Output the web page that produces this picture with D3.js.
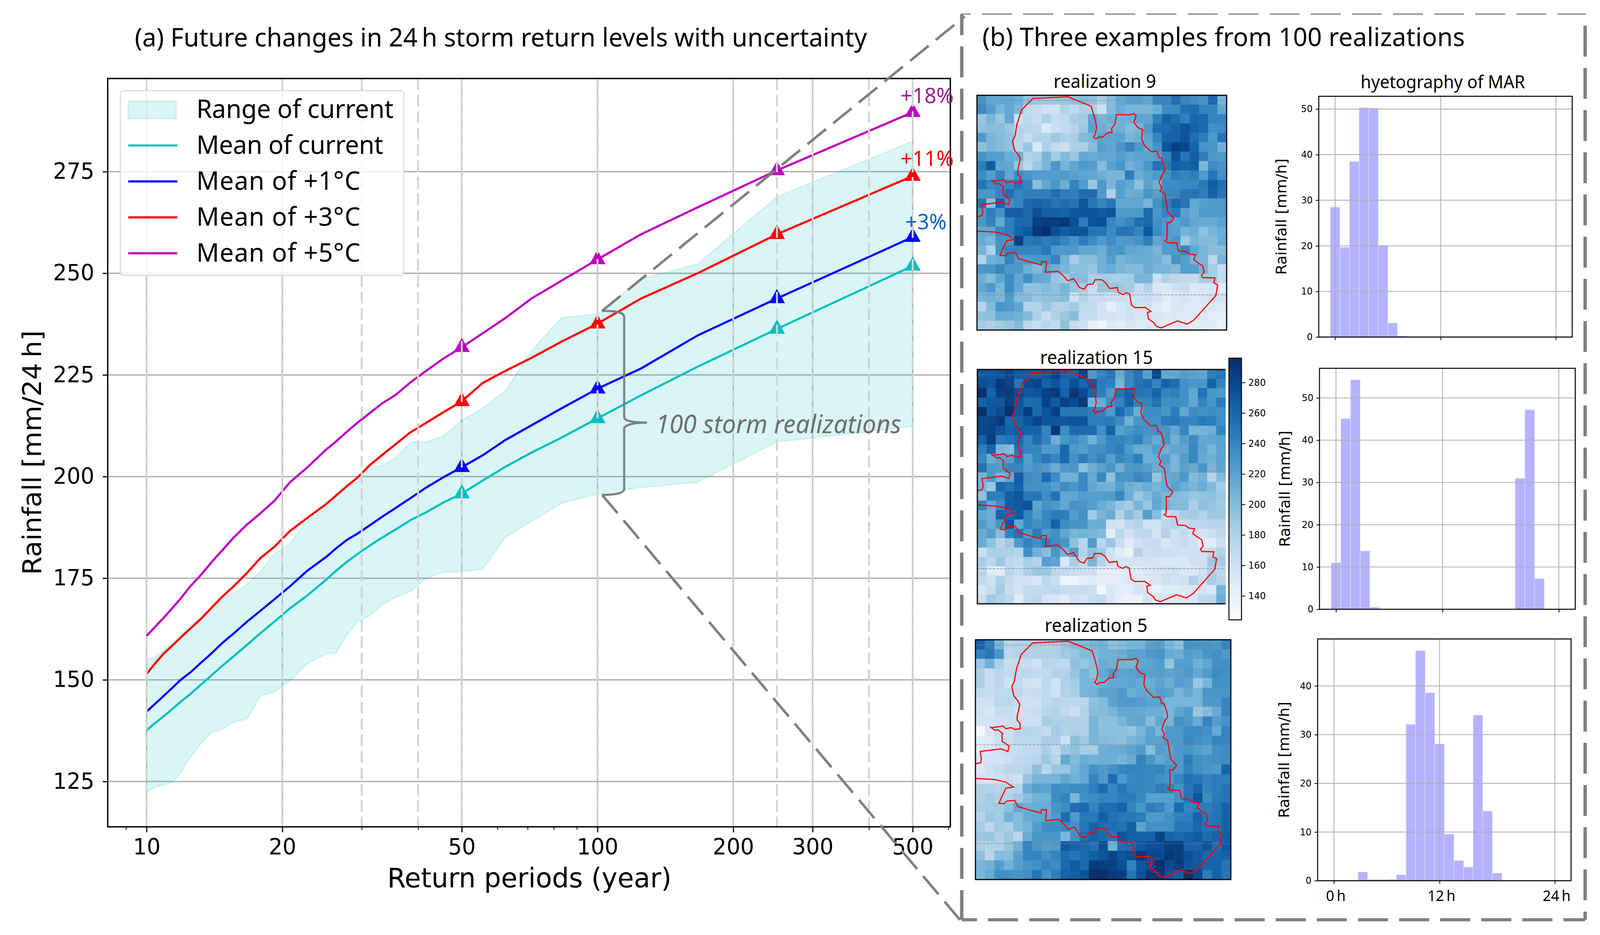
<!DOCTYPE html>
<html>
<head>
<meta charset="utf-8">
<script src="https://cdn.jsdelivr.net/npm/d3@7"></script>
<style>
html, body { margin: 0; padding: 0; background: #fff; overflow: hidden; }
text { font-family: "Noto Sans", sans-serif; fill: #000; }
.dj text, text.dj { font-family: "DejaVu Sans", sans-serif; }
</style>
</head>
<body>
<div id="chart-area"></div>
<script>
// ---- panel (a) data
var returnPeriods = [10,10.4,10.9,11.4,11.9,12.5,13.2,13.9,14.7,15.6,16.7,17.9,19.2,20.8,22.7,25,26.3,27.8,29.4,31.25,33.3,35.7,38.5,41.7,45.5,50,55.6,62.5,71.4,83.3,100,125,166.7,250,500];
var rangeLow = [122.2,123.5,124.2,124.8,127,131,134.2,137,137.8,139.6,140.4,146,147,149.7,153.9,156.3,156.6,161,164.4,165.7,168.5,170.3,171.7,175,176.4,176.6,177.2,185,189,193.4,195.7,197.3,198.6,208.5,212.3];
var rangeHigh = [154.8,155.6,157.2,159,160.8,163.6,165,166.6,170,171.3,173.5,176.8,181,183.6,189,192,195,198,198.6,202.4,202.7,204.7,208.5,208.5,210,213.8,216.8,221.1,231,239.1,240,248.6,252.3,268.8,282.5];
var meanCurrent = [137.6,139.2,141,142.8,144.6,146.5,148.8,151,153.4,155.8,158.6,161.5,164.3,167.6,170.7,174.6,176.8,179,181,183,185,187,189.3,191.2,193.6,195.8,199,202.4,205.9,209.6,214.3,220,227,236.3,251.8];
var meanPlus1 = [142.2,143.9,146,148,150,151.8,154.2,156.4,159,161.4,164.3,167,169.8,173,176.8,180.2,182.3,184.4,186,188,190.1,192.3,194.7,197.3,199.8,202.3,205.2,209,212.6,216.8,221.6,226.6,234.7,243.8,258.9];
var meanPlus3 = [151.4,153.8,156.4,158.4,160.4,162.6,165,167.6,170.4,173,176.3,180,182.7,186.6,189.8,193.2,195.3,197.6,199.8,202.8,205.3,208,210.9,213.2,215.8,218.5,223,226,229.2,233.2,237.6,243.8,250,259.6,273.9];
var meanPlus5 = [160.8,162.8,165.2,167.6,170,173,175.8,178.8,181.8,185,188.2,191,194,198.6,202.2,206.6,208.6,211,213.3,215.6,218,220.1,223.2,226,229,231.8,235.2,239,243.8,248.2,253.4,259.6,266.2,275.3,289.6];

var markerPeriods = [50,100,250,500];
var xMajorTicks = [10,20,50,100,200,300,500];
var xMinorTicks = [9,30,40,60,70,80,90,400,600];
var xDashed = [10,20,30,40,50,100,200,250,300,400,500];
var yTicks = [125,150,175,200,225,250,275];
var legendLabels = ["Range of current","Mean of current","Mean of +1°C","Mean of +3°C","Mean of +5°C"];

// ---- panel (b) hyetographs, one value per hour bin
var hyeto9 = [28.5,19.7,38.5,50.3,50.2,20.1,3.1,0.3,0,0,0,0,0,0,0,0,0,0,0,0,0,0,0,0];
var hyeto15 = [11,45.1,54.3,13.8,0.5,0,0,0,0,0,0,0,0,0,0,0,0,0,0,31,47.2,7.25,0,0];
var hyeto5 = [0,0,0,1.8,0.25,0.25,0.3,1.2,32.1,47.25,38.6,28.1,9.6,4.15,2.8,34,14.3,1.55,0,0,0,0,0,0];
var hyetoTicks = [0,11,23];
var hyetoTickLabels = ["0\u2009h","12\u2009h","24\u2009h"];

// ---- panel (b) rainfall maps, 25 rows x 27 columns, mm/24h
var realization9 = [
[230,215,215,215,210,195,190,190,190,190,195,200,195,185,200,215,220,220,215,240,240,255,240,235,230,258,205],
[235,222,205,215,205,170,165,158,158,178,170,180,180,162,200,212,205,205,205,210,235,235,252,255,240,240,215],
[190,205,190,215,160,172,165,180,165,170,183,185,215,205,210,210,210,215,215,243,262,255,243,260,258,240,240],
[195,198,198,190,175,175,172,148,162,168,175,188,218,210,205,210,200,205,225,255,255,262,272,262,258,232,235],
[225,205,200,195,175,165,178,178,188,180,182,200,205,218,218,220,205,210,218,240,262,262,272,255,245,225,250],
[195,205,200,195,175,190,150,180,168,162,180,180,198,220,215,228,240,225,215,230,272,285,280,262,230,228,208],
[230,222,222,212,208,178,182,205,185,200,190,215,212,215,215,222,215,218,218,222,240,272,250,265,245,225,225],
[245,265,215,215,190,172,190,205,228,205,215,225,222,198,218,228,208,215,228,252,245,265,262,265,205,235,230],
[235,222,240,215,235,228,222,222,222,225,220,218,215,210,205,205,245,210,218,225,232,245,240,245,225,250,232],
[252,238,240,238,252,240,198,215,228,210,240,225,190,225,205,222,215,195,218,208,235,235,238,238,248,265,252],
[228,228,240,255,240,245,245,245,255,245,245,255,255,225,178,222,210,212,228,220,238,238,250,250,245,262,248],
[250,195,262,232,240,258,262,258,250,255,250,270,250,240,250,215,215,215,205,232,245,258,250,215,222,225,225],
[225,245,230,265,265,258,275,265,265,262,270,272,272,268,272,225,225,225,258,228,240,248,220,212,225,225,225],
[228,240,215,245,258,258,285,288,288,292,275,245,272,275,238,232,240,255,258,232,225,218,225,215,212,212,218],
[215,215,240,245,262,270,290,295,275,265,272,272,250,250,235,250,250,240,270,235,225,220,205,210,195,205,210],
[212,205,230,230,285,248,252,245,250,240,230,245,235,225,235,225,225,230,245,215,222,228,188,205,200,200,212],
[205,180,230,240,240,240,240,248,225,225,225,215,215,210,225,228,215,215,212,205,222,225,240,215,205,198,198],
[178,208,212,240,225,225,228,228,240,208,185,198,198,208,222,205,210,212,212,208,198,230,222,205,205,172,205],
[228,228,238,225,225,210,200,215,210,205,195,195,190,208,212,205,200,200,212,205,205,200,222,222,205,185,165],
[210,200,215,235,215,232,215,212,190,185,200,198,183,183,183,183,183,205,205,162,178,172,168,168,185,185,168],
[215,225,205,235,215,195,195,200,195,205,190,185,165,190,190,190,185,165,178,150,150,160,165,148,150,152,145],
[205,208,205,225,200,198,192,195,195,200,160,178,165,165,162,162,160,162,165,158,145,150,155,150,152,160,155],
[175,200,228,225,215,178,178,190,178,178,185,170,170,155,140,152,158,158,158,148,138,150,150,148,148,150,150],
[195,195,212,212,208,200,180,165,180,190,198,165,165,155,155,152,158,150,150,152,148,150,148,148,150,142,142],
[185,178,185,190,200,172,165,175,168,195,165,160,140,130,148,142,150,148,150,148,140,148,148,145,148,145,140]
];
var realization15 = [
[268,268,272,280,268,268,265,272,285,265,262,285,225,240,250,212,238,252,220,280,215,215,222,218,215,245,250],
[275,272,290,282,250,278,283,262,272,258,275,262,272,245,242,205,238,252,255,240,262,255,232,228,228,262,238],
[295,262,285,288,278,268,272,285,288,262,290,278,262,245,225,252,262,250,248,262,240,245,232,215,252,228,225],
[262,270,270,285,272,255,258,282,268,285,278,290,208,212,235,240,262,240,240,252,232,235,232,215,240,228,245],
[295,270,278,295,268,285,258,272,285,248,248,250,245,240,225,258,238,210,235,235,228,245,215,235,232,235,232],
[278,282,288,258,262,272,282,272,272,270,272,272,245,245,245,235,208,228,232,232,245,248,240,240,248,245,232],
[280,282,272,262,268,262,262,240,290,235,258,255,255,232,262,220,228,235,230,232,228,215,238,205,205,210,240],
[262,285,245,250,258,240,255,240,210,228,235,225,208,225,240,240,235,242,225,212,228,208,222,235,215,215,218],
[245,262,205,200,252,240,240,225,225,258,225,222,232,232,240,245,225,212,212,222,210,215,215,238,215,205,218],
[238,210,220,222,248,222,238,248,238,258,232,245,232,240,222,238,232,245,210,212,222,205,222,238,212,210,218],
[252,225,222,240,240,225,230,225,212,225,228,195,210,220,228,210,225,228,222,210,215,205,218,212,228,205,215],
[205,225,205,215,265,235,232,258,235,208,208,238,212,238,195,230,228,238,232,192,212,215,225,200,208,178,200],
[205,190,258,250,262,232,232,232,222,235,228,238,215,210,208,222,210,205,212,205,212,220,210,205,212,200,185],
[195,245,245,265,272,248,250,235,252,215,215,222,222,222,222,238,210,190,200,212,205,200,198,190,192,195,190],
[240,212,235,268,268,272,218,230,225,215,230,228,222,212,205,192,185,205,190,215,205,200,200,180,195,192,188],
[215,210,262,258,268,240,222,238,245,245,222,232,188,205,212,178,200,185,222,198,165,172,182,185,178,190,190],
[225,212,228,270,215,240,232,238,262,235,230,228,210,212,160,155,172,178,158,158,172,178,165,172,172,175,175],
[212,222,198,240,252,225,245,225,232,215,205,208,205,200,145,172,158,170,172,155,178,160,168,160,155,162,170],
[212,195,175,188,225,242,232,245,235,228,195,175,225,175,190,165,145,158,165,165,152,160,165,158,142,145,162],
[162,182,180,180,175,232,208,198,228,205,222,178,195,188,160,145,135,178,162,165,162,160,158,160,160,170,178],
[183,172,190,172,170,182,178,222,218,150,182,172,205,178,158,155,155,155,155,155,150,150,150,160,158,188,185],
[175,148,145,175,165,182,190,188,172,170,165,162,160,145,142,142,145,145,152,155,160,160,152,150,160,180,172],
[170,160,180,168,158,158,150,172,162,135,133,142,145,142,142,145,150,148,150,150,160,155,158,180,162,185,175],
[155,165,185,165,155,168,168,170,172,165,165,165,162,130,150,142,142,155,150,140,145,145,148,150,155,150,205],
[165,188,178,172,145,168,172,155,152,142,160,155,165,168,150,140,135,135,155,150,152,150,150,150,170,172,210]
];
var realization5 = [
[262,245,205,175,178,178,180,178,182,190,198,200,205,208,195,200,205,205,218,222,205,195,230,228,228,225,240],
[240,248,228,172,176,178,180,180,180,188,190,200,200,208,208,212,220,218,225,228,212,210,222,218,228,232,225],
[190,208,180,165,168,165,158,175,172,170,195,192,198,212,208,208,205,215,218,222,192,222,222,208,215,232,232],
[180,165,172,168,170,172,168,170,178,178,192,205,195,215,225,218,220,222,220,222,218,220,225,215,225,235,232],
[182,165,172,158,168,158,155,172,158,180,185,205,205,210,215,215,218,212,210,218,210,222,218,190,205,232,232],
[170,165,170,170,172,162,165,170,160,178,182,205,208,218,218,225,210,215,215,222,218,205,215,205,228,228,228],
[160,160,172,172,165,158,160,170,175,172,172,175,195,200,218,225,225,222,218,218,205,205,205,205,225,225,240],
[158,152,165,165,158,162,165,175,178,170,162,178,198,200,205,215,215,212,210,210,205,215,225,190,200,212,240],
[155,155,158,162,165,160,162,185,180,180,180,180,205,195,195,205,215,215,198,215,205,232,225,212,240,222,230],
[128,152,165,160,172,175,172,168,185,178,180,180,205,195,195,195,192,205,218,205,225,225,235,235,232,212,240],
[145,150,162,165,172,172,172,182,182,160,195,188,205,200,198,195,205,210,220,220,225,225,238,232,228,240,240],
[148,150,158,165,165,170,170,182,170,188,195,185,185,210,212,212,218,225,198,222,218,225,228,222,218,232,235],
[155,155,155,162,168,172,175,188,175,215,200,210,208,210,210,205,212,240,228,215,222,225,245,232,230,232,235],
[150,160,165,172,172,175,195,172,190,192,205,215,230,225,232,238,240,240,238,240,230,225,240,232,228,225,262],
[158,155,160,165,158,190,205,205,205,215,208,215,240,225,255,225,238,240,238,232,228,240,252,250,240,245,245],
[178,178,175,175,175,212,220,218,235,232,235,235,245,258,238,250,240,240,238,245,240,230,248,260,240,245,250],
[178,185,180,178,188,198,208,208,235,240,205,232,235,240,240,245,245,238,220,220,220,232,250,272,235,248,250],
[182,185,185,195,215,210,212,212,228,235,255,258,240,255,255,262,240,228,245,240,225,258,240,245,245,250,262],
[175,190,185,208,200,212,215,215,225,255,225,248,248,265,252,248,248,245,225,225,232,242,245,262,248,252,262],
[185,172,185,182,200,205,222,235,235,238,232,250,262,255,255,252,265,218,232,232,232,250,250,258,250,252,262],
[188,190,180,188,172,212,228,228,228,205,232,255,262,258,250,272,265,262,262,282,262,258,262,268,255,262,265],
[182,178,178,192,208,240,228,222,225,268,262,258,252,275,208,255,260,270,275,275,285,285,262,262,272,255,268],
[195,175,200,198,220,240,240,232,240,255,250,258,265,272,280,272,275,290,280,278,290,285,275,268,260,260,262],
[205,208,222,208,220,228,232,240,235,258,268,258,288,285,285,275,240,272,280,295,278,288,272,270,262,262,250],
[205,212,232,232,230,232,250,230,245,262,265,272,295,295,288,285,250,272,290,292,275,265,295,278,245,262,250]
];
var colorbarTicks = [140,160,180,200,220,240,260,280];
var latRows = [0.55,10.95,21.25];

// catchment outline, digitised on a 1286 x 1110 grid over the map
var boundaryX = [0,26,30,24,68,128,163,170,143,135,133,138,113,98,73,78,123,138,153,180,198,226,224,210,210,218,223,213,193,183,196,206,230,288,468,588,600,613,616,608,600,613,623,648,673,696,693,710,718,763,788,808,820,808,828,853,848,863,898,928,938,951,963,968,953,938,951,943,968,978,983,1013,996,978,980,978,968,983,1028,1038,1078,1098,1126,1116,1143,1163,1170,1156,1163,1226,1220,1240,1230,1118,1083,1033,948,923,913,883,878,896,868,813,796,786,768,753,728,723,683,663,643,608,598,568,553,528,498,468,443,418,353,358,333,330,268,213,198,158,143,118,138,153,191,153,98,0];
var boundaryY = [575,569,552,517,512,505,517,492,475,472,442,435,417,419,402,407,402,399,412,407,415,412,387,372,355,322,299,282,259,217,192,137,69,15,7,52,87,132,157,187,197,207,199,197,177,175,157,137,92,92,92,87,97,127,152,162,207,237,267,265,295,297,332,357,377,412,437,452,467,522,552,582,602,602,637,682,687,697,697,737,739,752,755,777,795,807,837,852,862,864,887,897,947,1062,1082,1067,1100,1092,1077,1057,1027,1022,1004,1004,992,939,934,942,932,909,914,887,872,872,892,895,917,909,867,877,852,832,837,787,787,802,787,772,744,747,759,757,717,687,682,659,647,642];
var boundaryGridX = [0,1286], boundaryGridY = [0,1110];

// ---- layout
var svg = d3.select("#chart-area").append("svg")
    .attr("viewBox", "0 0 4204 2394")
    .attr("preserveAspectRatio", "none")
    .style("display", "block")
    .style("width", "100vw")
    .style("height", "100vh");
svg.append("rect").attr("width", 4204).attr("height", 2394).attr("fill", "#fff");

var box = { left: 283, right: 2497, top: 201, bottom: 2117 };
var x = d3.scaleLog().domain([8.2, 606]).range([box.left, box.right]);
var y = d3.scaleLinear().domain([113.85, 297.9]).range([box.bottom, box.top]);

var teal = "#00bfbf", blue = "#0000ff", red = "#ff0000", purple = "#bf00bf";
var meanSeries = [
    { values: meanCurrent, color: teal },
    { values: meanPlus1, color: blue },
    { values: meanPlus3, color: red },
    { values: meanPlus5, color: purple }
];

var g = svg.append("g");

// Grid below everything
g.selectAll(".hgrid").data(yTicks).enter().append("line")
    .attr("x1", box.left).attr("x2", box.right)
    .attr("y1", function(d) { return y(d); }).attr("y2", function(d) { return y(d); })
    .attr("stroke", "#b0b0b0").attr("stroke-width", 3.5);
g.selectAll(".vgrid").data(xMajorTicks).enter().append("line")
    .attr("y1", box.top).attr("y2", box.bottom)
    .attr("x1", function(d) { return x(d); }).attr("x2", function(d) { return x(d); })
    .attr("stroke", "#bdbdbd").attr("stroke-width", 3.5);

// Range of current
var area = d3.area()
    .x(function(d, i) { return x(returnPeriods[i]); })
    .y0(function(d, i) { return y(rangeLow[i]); })
    .y1(function(d, i) { return y(rangeHigh[i]); });
g.append("path").datum(returnPeriods)
    .attr("d", area)
    .attr("fill", teal).attr("fill-opacity", 0.15)
    .attr("stroke", teal).attr("stroke-opacity", 0.15).attr("stroke-width", 3);

// Mean lines
meanSeries.forEach(function(s) {
    var line = d3.line()
        .x(function(d, i) { return x(returnPeriods[i]); })
        .y(function(d) { return y(d); });
    g.append("path").datum(s.values)
        .attr("d", line).attr("fill", "none")
        .attr("stroke", s.color).attr("stroke-width", 5.5);
});

// Triangles
var tri = d3.symbol().type(d3.symbolTriangle).size(770);
meanSeries.forEach(function(s) {
    g.selectAll(null).data(markerPeriods).enter().append("path")
        .attr("d", tri)
        .attr("fill", s.color)
        .attr("transform", function(d) {
            return "translate(" + x(d) + "," + y(s.values[returnPeriods.indexOf(d)]) + ")";
        });
});

// Dashed guides sit on top of the marks
g.selectAll(".vdash").data(xDashed).enter().append("line")
    .attr("y1", box.top).attr("y2", box.bottom)
    .attr("x1", function(d) { return x(d); }).attr("x2", function(d) { return x(d); })
    .attr("stroke", "#d3d3d3").attr("stroke-width", 5)
    .attr("stroke-dasharray", "30 12");

// Spines and axes
g.append("rect")
    .attr("x", box.left).attr("y", box.top)
    .attr("width", box.right - box.left).attr("height", box.bottom - box.top)
    .attr("fill", "none").attr("stroke", "#000").attr("stroke-width", 3.5);

var xAxisCall = d3.axisBottom(x).tickValues(xMajorTicks).tickFormat(function(d) { return d; }).tickSize(14).tickPadding(10);
var xAxisGroup = g.append("g").attr("class", "dj").attr("transform", "translate(0," + box.bottom + ")").call(xAxisCall);
xAxisGroup.select(".domain").remove();
xAxisGroup.selectAll("line").attr("stroke-width", 3);
xAxisGroup.selectAll("text").attr("font-size", 57).attr("dy", "0.82em");

var xMinorCall = d3.axisBottom(x).tickValues(xMinorTicks).tickFormat("").tickSize(8);
var xMinorGroup = g.append("g").attr("transform", "translate(0," + box.bottom + ")").call(xMinorCall);
xMinorGroup.select(".domain").remove();
xMinorGroup.selectAll("line").attr("stroke-width", 2);

var yAxisCall = d3.axisLeft(y).tickValues(yTicks).tickSize(13).tickPadding(22);
var yAxisGroup = g.append("g").attr("class", "dj").attr("transform", "translate(" + box.left + ",0)").call(yAxisCall);
yAxisGroup.select(".domain").remove();
yAxisGroup.selectAll("line").attr("stroke-width", 3);
yAxisGroup.selectAll("text").attr("font-size", 57);

g.append("text").attr("class", "dj")
    .attr("x", 1391).attr("y", 2272)
    .attr("font-size", 70).attr("text-anchor", "middle")
    .text("Return periods (year)");
g.append("text").attr("class", "dj")
    .attr("transform", "translate(108,1159) rotate(-90)")
    .attr("font-size", 68).attr("text-anchor", "middle")
    .text("Rainfall [mm/24\u2009h]");

// Legend
var legend = g.append("g");
legend.append("rect")
    .attr("x", 316).attr("y", 232).attr("width", 745).attr("height", 473).attr("rx", 8)
    .attr("fill", "#fff").attr("fill-opacity", 0.8)
    .attr("stroke", "#dcdcdc").attr("stroke-width", 3);
legend.append("rect")
    .attr("x", 337).attr("y", 259).attr("width", 126).attr("height", 45)
    .attr("fill", teal).attr("fill-opacity", 0.15)
    .attr("stroke", teal).attr("stroke-opacity", 0.15).attr("stroke-width", 3);
legend.selectAll(null).data(meanSeries).enter().append("line")
    .attr("x1", 337).attr("x2", 466)
    .attr("y1", function(d, i) { return 372.5 + i * 92; })
    .attr("y2", function(d, i) { return 372.5 + i * 92; })
    .attr("stroke", function(d) { return d.color; }).attr("stroke-width", 5.5);
var legendWidths = [518, 491, 431, 431, 431];
legend.selectAll(null).data(legendLabels).enter().append("text")
    .attr("x", 516)
    .attr("y", function(d, i) { return 302 + i * 92; })
    .attr("font-size", 66)
    .attr("textLength", function(d, i) { return legendWidths[i]; })
    .text(function(d) { return d; });

// Change labels at the 500 year end
var endLabels = [
    { text: "+18%", color: "#9e1f96", value: meanPlus5, dy: -23, x: 2436 },
    { text: "+11%", color: "#ff0000", value: meanPlus3, dy: -26, x: 2436 },
    { text: "+3%", color: "#0a66c2", value: meanPlus1, dy: -20, x: 2433 }
];
g.selectAll(null).data(endLabels).enter().append("text")
    .attr("x", function(d) { return d.x; })
    .attr("y", function(d) { return y(d.value[d.value.length - 1]) + d.dy; })
    .attr("font-size", 55)
    .attr("text-anchor", "middle")
    .style("fill", function(d) { return d.color; })
    .text(function(d) { return d.text; });

// Brace and zoom lines
g.append("path")
    .attr("d", "M1582,796 C1620,796 1640,800 1640,812 L1640,1068 C1640,1078 1665,1082 1700,1082 C1665,1082 1640,1088 1640,1098 L1640,1252 C1640,1262 1620,1267 1582,1267")
    .attr("fill", "none").attr("stroke", "#7f7f7f").attr("stroke-width", 5.5);
g.append("text")
    .attr("x", 1723).attr("y", 1109)
    .attr("font-size", 65).attr("font-style", "italic")
    .attr("textLength", 645)
    .style("fill", "#6e6e6e")
    .text("100 storm realizations");
g.append("line").attr("x1", 1582).attr("y1", 796).attr("x2", 2535).attr("y2", 42)
    .attr("stroke", "#7f7f7f").attr("stroke-width", 6.5).attr("stroke-dasharray", "62 24");
g.append("line").attr("x1", 1582).attr("y1", 1267).attr("x2", 2523).attr("y2", 2356)
    .attr("stroke", "#7f7f7f").attr("stroke-width", 6.5).attr("stroke-dasharray", "62 24");

// Titles
svg.append("text").attr("x", 354).attr("y", 119).attr("font-size", 66)
    .attr("textLength", 1924)
    .text("(a) Future changes in 24\u2009h storm return levels with uncertainty");
svg.append("text").attr("x", 2581).attr("y", 118).attr("font-size", 66)
    .attr("textLength", 1268)
    .text("(b) Three examples from 100 realizations");

// Dashed frame of panel (b)
var frameSides = [
    { x1: 2527, y1: 36, x2: 4165, y2: 36, w: 3, off: 55 },
    { x1: 2527, y1: 36, x2: 2527, y2: 2355, w: 9, off: 25 },
    { x1: 2527, y1: 2355, x2: 4165, y2: 2355, w: 8, off: 39 },
    { x1: 4165, y1: 36, x2: 4165, y2: 2355, w: 9, off: 78 }
];
svg.selectAll(null).data(frameSides).enter().append("line")
    .attr("x1", function(d) { return d.x1; }).attr("y1", function(d) { return d.y1; })
    .attr("x2", function(d) { return d.x2; }).attr("y2", function(d) { return d.y2; })
    .attr("stroke", "#7f7f7f")
    .attr("stroke-width", function(d) { return d.w; })
    .attr("stroke-dasharray", "79 29")
    .attr("stroke-dashoffset", function(d) { return d.off; });

// ---- rainfall maps
var mapColor = d3.scaleSequential(d3.interpolateBlues).domain([125, 295]);

function drawMap(rows, f, title) {
    var m = svg.append("g");
    var col = d3.scaleBand().domain(d3.range(rows[0].length)).range([f.left, f.right]);
    var row = d3.scaleBand().domain(d3.range(rows.length)).range([f.top, f.bottom]);
    var rowPos = d3.scaleLinear().domain([0, rows.length]).range([f.top, f.bottom]);

    rows.forEach(function(r, i) {
        m.selectAll(null).data(r).enter().append("rect")
            .attr("x", function(d, j) { return col(j); })
            .attr("y", row(i))
            .attr("width", col.bandwidth() + 0.6)
            .attr("height", row.bandwidth() + 0.6)
            .attr("fill", function(d) { return mapColor(d); });
    });

    m.selectAll(null).data(latRows).enter().append("line")
        .attr("x1", f.left).attr("x2", f.right)
        .attr("y1", function(d) { return rowPos(d); }).attr("y2", function(d) { return rowPos(d); })
        .attr("stroke", "#808080").attr("stroke-opacity", 0.7).attr("stroke-width", 1.8)
        .attr("stroke-dasharray", "7 3");

    var bx = d3.scaleLinear().domain(boundaryGridX).range([f.left, f.right]);
    var by = d3.scaleLinear().domain(boundaryGridY).range([f.top, f.bottom]);
    var outline = d3.line()
        .x(function(d) { return bx(d); })
        .y(function(d, i) { return by(boundaryY[i]); });
    m.append("path").datum(boundaryX)
        .attr("d", outline).attr("fill", "none")
        .attr("stroke", "#ff0000").attr("stroke-width", 3);

    var sides = "M" + f.right + "," + f.top + " L" + f.left + "," + f.top + " L" + f.left + "," + f.bottom + " L" + f.right + "," + f.bottom;
    if (!f.open) { sides += " Z"; }
    m.append("path").attr("d", sides).attr("fill", "none")
        .attr("stroke", "#000").attr("stroke-width", 3);

    m.append("text").attr("x", f.titleX).attr("y", f.titleY)
        .attr("font-size", 47).attr("text-anchor", "middle").text(title);
}

drawMap(realization9, { left: 2567, right: 3223, top: 244, bottom: 845, titleX: 2903, titleY: 225 }, "realization 9");
drawMap(realization15, { left: 2568, right: 3220, top: 946, bottom: 1546, open: true, titleX: 2881, titleY: 932 }, "realization 15");
drawMap(realization5, { left: 2563, right: 3234, top: 1638, bottom: 2252, titleX: 2880, titleY: 1618 }, "realization 5");

// Colorbar
var cbar = svg.append("g");
var cbarY = d3.scaleLinear().domain([124.3, 296]).range([1587, 917]);
cbar.selectAll(null).data(d3.range(125, 296)).enter().append("rect")
    .attr("x", 3229).attr("width", 33)
    .attr("y", function(d) { return cbarY(d + 1); })
    .attr("height", function(d) { return cbarY(d) - cbarY(d + 1) + 0.6; })
    .attr("fill", function(d) { return mapColor(d); });
cbar.append("rect").attr("x", 3229).attr("y", 917).attr("width", 33).attr("height", 670)
    .attr("fill", "none").attr("stroke", "#000").attr("stroke-width", 2.5);
var cbarAxis = d3.axisRight(cbarY).tickValues(colorbarTicks).tickSize(10).tickPadding(8);
var cbarGroup = cbar.append("g").attr("class", "dj").attr("transform", "translate(3262,0)").call(cbarAxis);
cbarGroup.select(".domain").remove();
cbarGroup.selectAll("line").attr("stroke-width", 2);
cbarGroup.selectAll("text").attr("font-size", 24);

// ---- hyetographs
function drawHyeto(values, f) {
    var h = svg.append("g");
    var bx = d3.scaleLinear().domain([-1.7, 24.7]).range([f.left, f.right]);
    var by = d3.scaleLinear().domain([0, f.yMax]).range([f.bottom, f.top]);
    var binW = bx(1) - bx(0);

    h.selectAll(null).data(values).enter().append("rect")
        .attr("x", function(d, i) { return bx(i - 0.5); })
        .attr("width", binW)
        .attr("y", function(d) { return by(d); })
        .attr("height", function(d) { return by(0) - by(d); })
        .attr("fill", "#b3b3ff")
        .attr("stroke", "#e2e2ff").attr("stroke-width", 1.2)
        .attr("stroke-opacity", function(d) { return d > 0 ? 1 : 0; });

    h.selectAll(null).data(f.yTicks).enter().append("line")
        .attr("x1", f.left).attr("x2", f.right)
        .attr("y1", function(d) { return by(d); }).attr("y2", function(d) { return by(d); })
        .attr("stroke", "#b0b0b0").attr("stroke-width", 2.2);
    h.selectAll(null).data(hyetoTicks).enter().append("line")
        .attr("y1", f.top).attr("y2", f.bottom)
        .attr("x1", function(d) { return bx(d); }).attr("x2", function(d) { return bx(d); })
        .attr("stroke", "#b0b0b0").attr("stroke-width", 2.2);

    h.append("rect").attr("x", f.left).attr("y", f.top)
        .attr("width", f.right - f.left).attr("height", f.bottom - f.top)
        .attr("fill", "none").attr("stroke", "#000").attr("stroke-width", 2.6);

    var yCall = d3.axisLeft(by).tickValues(f.yTicks).tickSize(8).tickPadding(8).tickFormat(d3.format("d"));
    var yG = h.append("g").attr("class", "dj").attr("transform", "translate(" + f.left + ",0)").call(yCall);
    yG.select(".domain").remove();
    yG.selectAll("line").attr("stroke-width", 2);
    yG.selectAll("text").attr("font-size", 24);

    var xCall = d3.axisBottom(bx).tickValues(hyetoTicks).tickSize(8).tickFormat("");
    var xG = h.append("g").attr("transform", "translate(0," + f.bottom + ")").call(xCall);
    xG.select(".domain").remove();
    xG.selectAll("line").attr("stroke-width", 2);

    h.append("text").attr("class", "dj")
        .attr("transform", "translate(" + f.labelX + "," + (f.top + f.bottom) / 2 + ") rotate(-90)")
        .attr("font-size", 38.5).attr("text-anchor", "middle")
        .text("Rainfall [mm/h]");

    if (f.showX) {
        h.selectAll(null).data(hyetoTicks).enter().append("text")
            .attr("x", function(d) { return bx(d) + 5; })
            .attr("y", f.bottom + 52)
            .attr("font-size", 38).attr("text-anchor", "middle")
            .text(function(d, i) { return hyetoTickLabels[i]; });
    }
}

drawHyeto(hyeto9, { left: 3465, right: 4131, top: 246.5, bottom: 863, yMax: 52.8, yTicks: [0,10,20,30,40,50], labelX: 3380 });
drawHyeto(hyeto15, { left: 3467, right: 4139, top: 943, bottom: 1560, yMax: 57, yTicks: [0,10,20,30,40,50], labelX: 3389 });
drawHyeto(hyeto5, { left: 3462, right: 4128, top: 1636, bottom: 2255, yMax: 49.65, yTicks: [0,10,20,30,40], labelX: 3387, showX: true });

svg.append("text").attr("x", 3791).attr("y", 226).attr("font-size", 45)
    .attr("text-anchor", "middle").text("hyetography of MAR");
</script>
</body>
</html>
